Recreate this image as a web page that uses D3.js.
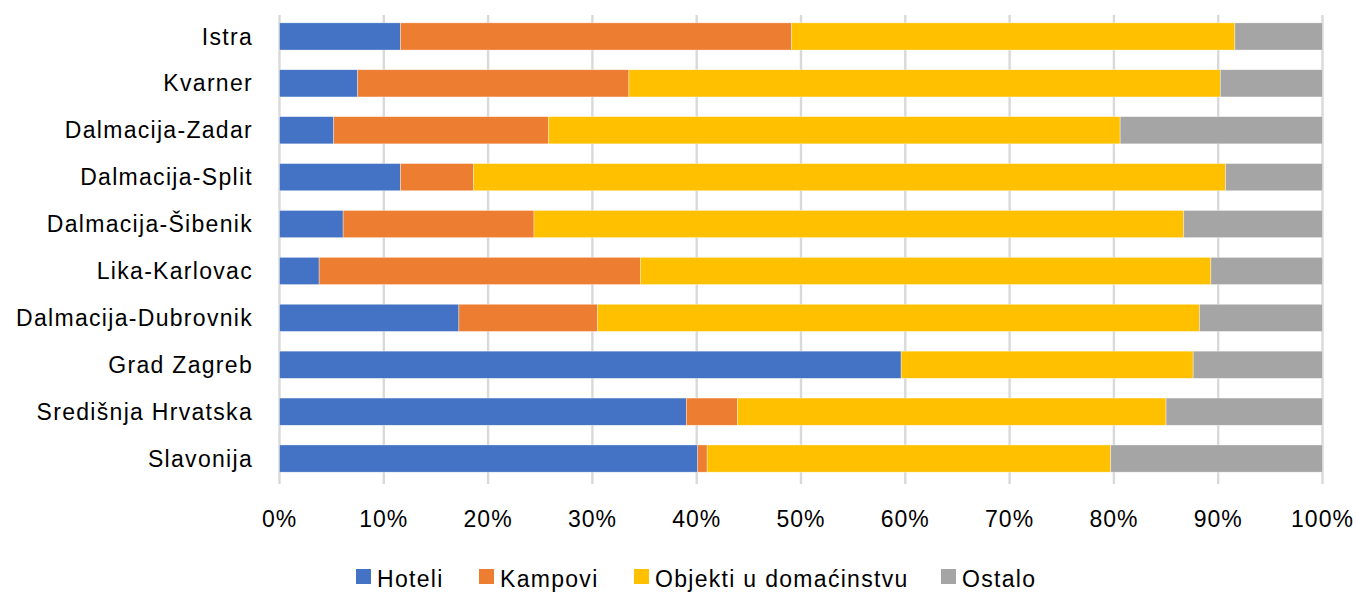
<!DOCTYPE html>
<html><head><meta charset="utf-8">
<script src="https://cdn.jsdelivr.net/npm/d3@7"></script>
<style>body{margin:0;background:#fff}svg{display:block}text{font-family:"Liberation Sans Narrow","Arial Narrow","Liberation Sans",sans-serif;fill:#000}</style>
</head><body>
<svg id="c" width="1356" height="592"></svg>
<script>
const categories = ["Istra","Kvarner","Dalmacija-Zadar","Dalmacija-Split","Dalmacija-Šibenik","Lika-Karlovac","Dalmacija-Dubrovnik","Grad Zagreb","Središnja Hrvatska","Slavonija"];
const seriesNames = ["Hoteli","Kampovi","Objekti u domaćinstvu","Ostalo"];
const hoteli  = [11.6, 7.5, 5.2, 11.6, 6.1, 3.8, 17.2, 59.6, 39.0, 40.1];
const kampovi = [37.5,26.0,20.6, 7.0,18.3,30.8,13.3, 0.0, 4.9, 0.9];
const objekti = [42.5,56.7,54.8,72.1,62.3,54.7,57.7,28.0,41.1,38.7];
const ostalo  = [ 8.4, 9.8,19.4, 9.3,13.3,10.7,11.8,12.4,15.0,20.3];
const tickValues = [0,0.1,0.2,0.3,0.4,0.5,0.6,0.7,0.8,0.9,1];
const colors = ["#4472C4","#ED7D31","#FFC000","#A5A5A5"];

const rows = categories.map((c,i)=>{
  const vals=[hoteli[i],kampovi[i],objekti[i],ostalo[i]];
  const tot=d3.sum(vals);
  const o={cat:c};
  seriesNames.forEach((s,j)=>o[s]=vals[j]/tot);
  return o;
});
const stack = d3.stack().keys(seriesNames)(rows);

const svg=d3.select("#c");
const x=d3.scaleLinear().domain([0,1]).range([279.5,1322.5]);
const y=d3.scaleBand().domain(categories).range([13,482]).paddingInner(0.42).paddingOuter(0.21);

// gridlines
svg.append("g").selectAll("line").data(tickValues).join("line")
  .attr("x1",d=>x(d)).attr("x2",d=>x(d)).attr("y1",15).attr("y2",484)
  .attr("stroke","#D9D9D9").attr("stroke-width",2.4);

// bars
svg.append("g").selectAll("g").data(stack).join("g")
  .attr("fill",(d,i)=>colors[i])
  .selectAll("rect").data(d=>d).join("rect")
  .attr("x",d=>x(d[0])).attr("width",d=>Math.max(0,x(d[1])-x(d[0])))
  .attr("y",d=>y(d.data.cat)).attr("height",y.bandwidth())
  .attr("stroke","#fff").attr("stroke-width",0.6).attr("stroke-opacity",0.6);

// category labels
svg.append("g").selectAll("text").data(categories).join("text")
  .attr("x",253).attr("y",d=>y(d)+y.bandwidth()/2)
  .attr("dy","0.35em").attr("text-anchor","end")
  .attr("font-size",23).attr("letter-spacing",1.3).text(d=>d);

// x tick labels
svg.append("g").selectAll("text").data(tickValues).join("text")
  .attr("x",d=>x(d)).attr("y",527).attr("text-anchor","middle")
  .attr("font-size",23).attr("letter-spacing",1).text(d=>d3.format(".0%")(d));

// legend
const legX=[356,479,634,941];
const lg=svg.append("g").selectAll("g").data(seriesNames).join("g")
  .attr("transform",(d,i)=>`translate(${legX[i]},0)`);
lg.append("rect").attr("x",0).attr("y",569).attr("width",15).attr("height",15).attr("fill",(d,i)=>colors[i]);
lg.append("text").attr("x",21).attr("y",587).attr("font-size",23).attr("letter-spacing",1.3).text(d=>d);
</script>
</body></html>
